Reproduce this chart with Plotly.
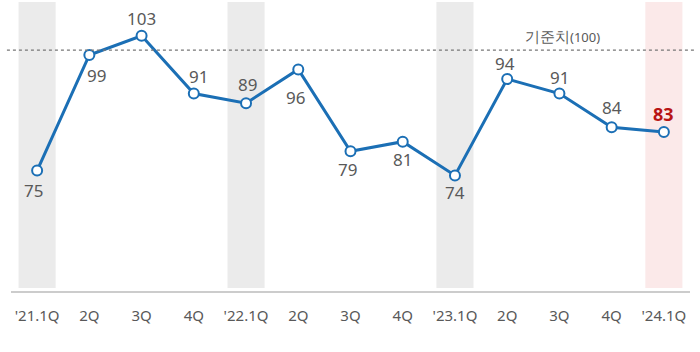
import plotly.graph_objects as go

quarters = ["'21.1Q", "2Q", "3Q", "4Q", "'22.1Q", "2Q", "3Q", "4Q",
            "'23.1Q", "2Q", "3Q", "4Q", "'24.1Q"]
values = [75, 99, 103, 91, 89, 96, 79, 81, 74, 94, 91, 84, 83]
baseline_value = 100
baseline_label = "기준치<span style='font-size:13px'>(100)</span>"
shaded_grey_idx = [0, 4, 8]
shaded_pink_idx = [12]

# label placement (style, pixels): vertical and horizontal offsets
label_dy = [-20, -21, 17, 17, 19, -28, -18, -18, -17, 16, 16, 20, 18]
label_dx = [-4, 7, 0, 5, 1, -3, -3, 0, 0, -2, 0, 0, 0]

x = list(range(len(values)))
FONT = "Noto Sans"
LINE_C = "#1b6fb5"
TXT_C = "#595959"

fig = go.Figure()

fig.add_trace(go.Scatter(
    x=x, y=values, mode="lines+markers",
    line=dict(color=LINE_C, width=3),
    marker=dict(size=10, color="white", line=dict(color=LINE_C, width=2)),
    hoverinfo="skip", showlegend=False,
))

shapes = []
for i in shaded_grey_idx + shaded_pink_idx:
    shapes.append(dict(
        type="rect", xref="x", yref="paper",
        x0=i - 0.355, x1=i + 0.355, y0=0.01, y1=1.0,
        fillcolor="#ebebeb" if i in shaded_grey_idx else "#fbe9e9",
        line=dict(width=0), layer="below",
    ))
shapes.append(dict(
    type="line", xref="paper", yref="y",
    x0=-0.006, x1=1.007, y0=baseline_value, y1=baseline_value,
    line=dict(color="#777777", width=1.2, dash="dot"),
))

annotations = []
last = len(values) - 1
for i, v in enumerate(values):
    is_last = i == last
    annotations.append(dict(
        x=i, y=v, xref="x", yref="y", showarrow=False,
        text=f"<b>{v}</b>" if is_last else str(v),
        font=dict(family=FONT, size=18 if is_last else 17,
                  color="#b81414" if is_last else TXT_C),
        yshift=label_dy[i], xshift=label_dx[i],
    ))
annotations.append(dict(
    x=10.05, y=baseline_value, xref="x", yref="y", showarrow=False,
    text=baseline_label, yshift=14,
    font=dict(family=FONT, size=15, color=TXT_C),
))

fig.update_layout(
    width=700, height=352,
    margin=dict(l=11, r=10, t=2, b=61),
    paper_bgcolor="white", plot_bgcolor="white",
    shapes=shapes, annotations=annotations,
    xaxis=dict(
        range=[-0.5, 12.5], tickmode="array", tickvals=x, ticktext=quarters,
        showgrid=False, zeroline=False, showline=True,
        linecolor="#cccccc", linewidth=1.5,
        tickfont=dict(family=FONT, size=15, color=TXT_C),
        ticks="", ticklabelstandoff=10,
    ),
    yaxis=dict(range=[50, 110], visible=False, showgrid=False, zeroline=False),
)

fig.write_html("out.html")
